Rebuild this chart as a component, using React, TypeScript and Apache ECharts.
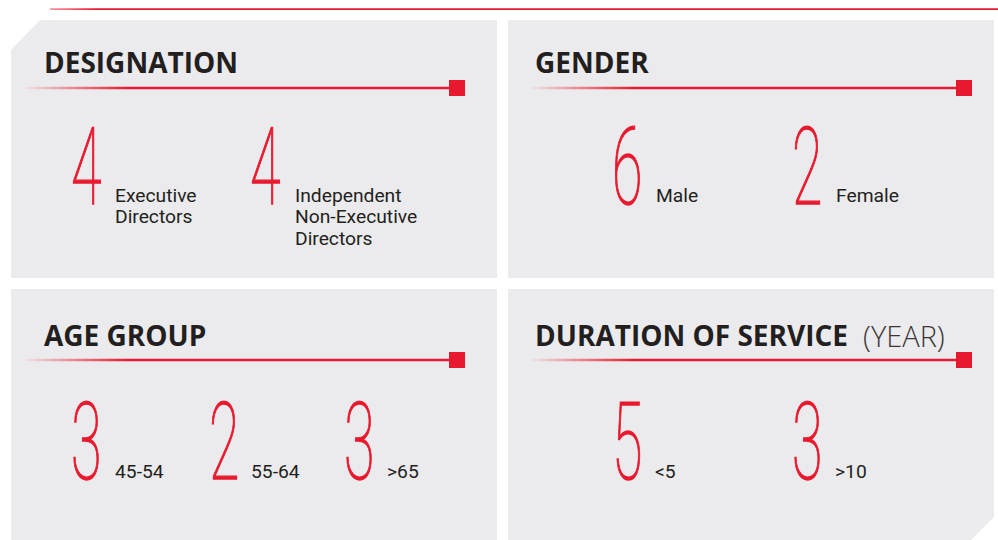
import React, { useEffect, useRef } from "react";
import * as echarts from "echarts";

// ---- data ----
const panelTitles = ["DESIGNATION", "GENDER", "AGE GROUP", "DURATION OF SERVICE"];
const durationTitleSuffix = "(YEAR)";
const designationValues = [4, 4];
const designationLabels = ["Executive\nDirectors", "Independent\nNon-Executive\nDirectors"];
const genderValues = [6, 2];
const genderLabels = ["Male", "Female"];
const ageValues = [3, 2, 3];
const ageLabels = ["45-54", "55-64", ">65"];
const serviceValues = [5, 3];
const serviceLabels = ["<5", ">10"];

// ---- style / layout ----
const RED = "#E8192E";
const DARK = "#231F20";
const PANEL_BG = "#EBEBED";

const panels = [
  {
    title: panelTitles[0],
    values: designationValues,
    labels: designationLabels,
    titlePos: [44, 62],
    line: [22, 449, 88],
    square: [449, 80],
    numX: [71, 250],
    labelX: [115, 295],
    numY: 167.5,
    labelY: 185.3,
    shape: [[11, 50], [40, 20], [497, 20], [497, 278], [11, 278]],
  },
  {
    title: panelTitles[1],
    values: genderValues,
    labels: genderLabels,
    titlePos: [535, 62],
    line: [528, 956, 88],
    square: [956, 80],
    numX: [612, 792],
    labelX: [656, 836],
    numY: 167.5,
    labelY: 185.3,
    shape: [[508, 20], [994, 20], [994, 278], [508, 278]],
  },
  {
    title: panelTitles[2],
    values: ageValues,
    labels: ageLabels,
    titlePos: [44, 335],
    line: [22, 449, 360],
    square: [449, 352],
    numX: [71, 209, 344],
    labelX: [115, 251, 387],
    numY: 442.5,
    labelY: 461.3,
    shape: [[11, 289], [497, 289], [497, 540], [11, 540]],
  },
  {
    title: panelTitles[3],
    suffix: durationTitleSuffix,
    values: serviceValues,
    labels: serviceLabels,
    titlePos: [535, 335],
    line: [528, 956, 360],
    square: [956, 352],
    numX: [612, 792],
    labelX: [655, 835],
    numY: 442.5,
    labelY: 461.3,
    shape: [[508, 289], [994, 289], [994, 517], [971, 540], [508, 540]],
  },
];

function buildGraphic() {
  const els: any[] = [];
  // top rule
  els.push({
    type: "rect",
    shape: { x: 50, y: 8.3, width: 948, height: 1.8 },
    style: {
      fill: new echarts.graphic.LinearGradient(0, 0, 1, 0, [
        { offset: 0, color: "rgba(232,25,46,0.45)" },
        { offset: 0.05, color: RED },
        { offset: 1, color: RED },
      ]),
    },
  });
  panels.forEach((p) => {
    els.push({ type: "polygon", shape: { points: p.shape }, style: { fill: PANEL_BG } });
    // title
    els.push({
      type: "text",
      x: p.titlePos[0],
      y: p.titlePos[1],
      style: {
        text: p.title,
        fontFamily: "Open Sans",
        fontWeight: "bold",
        fontSize: 28,
        fill: DARK,
        textAlign: "left",
        textVerticalAlign: "middle",
      },
    });
    if (p.suffix) {
      els.push({
        type: "text",
        x: 863,
        y: p.titlePos[1],
        style: {
          text: p.suffix,
          fontFamily: "Open Sans",
          fontWeight: 300,
          fontSize: 29,
          fill: "#3a3637",
          textAlign: "left",
          textVerticalAlign: "middle",
        },
      });
    }
    // underline with fade
    const [x0, x1, ly] = p.line;
    els.push({
      type: "rect",
      shape: { x: x0, y: ly - 1.25, width: x1 - x0, height: 2.5 },
      style: {
        fill: new echarts.graphic.LinearGradient(0, 0, 1, 0, [
          { offset: 0, color: "rgba(232,25,46,0)" },
          { offset: 0.25, color: RED },
          { offset: 1, color: RED },
        ]),
      },
    });
    els.push({
      type: "rect",
      shape: { x: p.square[0], y: p.square[1], width: 16, height: 16 },
      style: { fill: RED },
    });
    // numbers + labels
    p.values.forEach((v, i) => {
      els.push({
        type: "text",
        x: p.numX[i],
        y: p.numY,
        scaleX: 0.52,
        style: {
          text: String(v),
          fontFamily: "Roboto",
          fontWeight: 100,
          fontSize: 107,
          fill: RED,
          stroke: RED,
          lineWidth: 1.4,
          textStroke: RED,
          textStrokeWidth: 1.4,
          textAlign: "left",
          textVerticalAlign: "middle",
        },
      });
      els.push({
        type: "text",
        x: p.labelX[i],
        y: p.labelY,
        scaleX: 1.07,
        style: {
          text: p.labels[i],
          fontFamily: "Roboto",
          fontSize: 18,
          lineHeight: 21.5,
          fill: DARK,
          textAlign: "left",
          textVerticalAlign: "top",
        },
      });
    });
  });
  return els;
}

export default function App() {
  const ref = useRef<HTMLDivElement>(null);
  useEffect(() => {
    document.body.style.margin = "0";
    if (!ref.current) return;
    const chart = echarts.init(ref.current, null, { renderer: "svg" });
    chart.setOption({
      animation: false,
      backgroundColor: "#ffffff",
      graphic: { elements: buildGraphic() },
    });
    return () => chart.dispose();
  }, []);
  return <div ref={ref} style={{ width: 998, height: 540 }} />;
}
